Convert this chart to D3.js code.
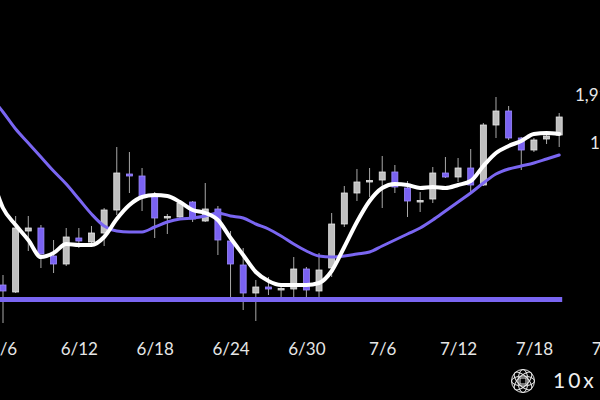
<!DOCTYPE html>
<html>
<head>
<meta charset="utf-8">
<script src="https://cdn.jsdelivr.net/npm/d3@7"></script>
<style>
  html, body { margin: 0; padding: 0; background: #000; overflow: hidden; }
  svg { display: block; }
</style>
</head>
<body>
<svg id="chart" width="600" height="400"></svg>
<script>
// ---- data ----
const candleDates = ["6/6","6/7","6/8","6/9","6/10","6/11","6/12","6/13","6/14","6/15","6/16","6/17","6/18","6/19","6/20","6/21","6/22","6/23","6/24","6/25","6/26","6/27","6/28","6/29","6/30","7/1","7/2","7/3","7/4","7/5","7/6","7/7","7/8","7/9","7/10","7/11","7/12","7/13","7/14","7/15","7/16","7/17","7/18","7/19","7/20"];
const open  = [1538,1524,1646,1652,1596,1580,1632,1624,1642,1688,1760,1756,1714,1673,1674,1704,1666,1690,1626,1578,1522,1534,1529,1530,1570,1526,1572,1660,1722,1745,1748,1764,1732,1705,1710,1762,1754,1772,1738,1858,1886,1832,1808,1830,1838];
const high  = [1558,1676,1676,1658,1628,1652,1652,1656,1692,1814,1804,1772,1724,1680,1708,1706,1742,1696,1646,1612,1548,1554,1542,1594,1574,1602,1682,1736,1770,1772,1796,1778,1746,1724,1774,1794,1792,1810,1862,1914,1896,1834,1832,1844,1882];
const low   = [1462,1522,1606,1572,1562,1576,1612,1622,1616,1678,1722,1686,1632,1640,1672,1664,1664,1598,1512,1488,1466,1518,1512,1512,1514,1514,1554,1654,1706,1714,1692,1722,1674,1684,1702,1752,1744,1724,1736,1832,1828,1768,1804,1820,1814];
const close = [1526,1652,1652,1600,1580,1634,1626,1642,1688,1762,1756,1714,1672,1675,1702,1670,1690,1628,1580,1522,1534,1530,1531,1570,1528,1568,1660,1722,1744,1747,1764,1734,1706,1707,1762,1754,1772,1738,1858,1886,1832,1808,1828,1836,1874];

const maDates = ["6/5"].concat(candleDates);
const maShort = [1764,1692,1658,1628,1594,1602,1620,1618,1618,1634,1670,1698,1714,1718,1716,1704,1688,1682,1668,1632,1598,1564,1546,1538,1538,1538,1542,1566,1614,1664,1706,1732,1740,1738,1732,1734,1732,1738,1746,1776,1802,1816,1826,1840,1842,1840];
const maLong  = [1916,1884,1850,1822,1794,1766,1740,1710,1680,1656,1646,1644,1644,1654,1664,1670,1672,1676,1682,1676,1672,1660,1650,1636,1620,1606,1596,1594,1596,1600,1604,1616,1628,1640,1652,1668,1686,1704,1722,1742,1760,1770,1776,1782,1790,1798];

const levelValue = 1509;
const tickDates = ["6/6","6/12","6/18","6/24","6/30","7/6","7/12","7/18","7/24"];
const priceTags = ["1,918","1,822"];
const priceTagValues = [1918, 1822];

// ---- helpers ----
const parse = s => { const [m, d] = s.split("/").map(Number); return new Date(2023, m - 1, d); };

const svg = d3.select("#chart");
const W = 600, H = 400;
svg.append("rect").attr("width", W).attr("height", H).attr("fill", "#000");

const x = d3.scaleTime()
  .domain([parse("6/6"), parse("7/20")])
  .range([3, 559.2]);
const y = d3.scaleLinear()
  .domain([1400, 2000])
  .range([354, 54]);

const candles = candleDates.map((d, i) => ({ date: parse(d), o: open[i], h: high[i], l: low[i], c: close[i] }));
const up = d => d.c >= d.o;
const bodyW = 6;

// candles
const g = svg.append("g");
g.selectAll("line.wick").data(candles).join("line")
  .attr("class", "wick")
  .attr("x1", d => x(d.date)).attr("x2", d => x(d.date))
  .attr("y1", d => y(d.h)).attr("y2", d => y(d.l))
  .attr("stroke", "#a8a8a8").attr("stroke-width", 1);

g.selectAll("rect.body").data(candles).join("rect")
  .attr("class", "body")
  .attr("x", d => x(d.date) - bodyW / 2)
  .attr("width", bodyW)
  .attr("y", d => y(Math.max(d.o, d.c)))
  .attr("height", d => Math.max(1.5, Math.abs(y(d.o) - y(d.c))))
  .attr("fill", d => up(d) ? "#bfbfbf" : "#7a62f2")
  .attr("stroke", d => up(d) ? "#e8e8e8" : "#9e8cff")
  .attr("stroke-width", 0.8);

// level line
svg.append("line")
  .attr("x1", 0).attr("x2", x(parse("7/20")) + 3)
  .attr("y1", y(levelValue)).attr("y2", y(levelValue))
  .attr("stroke", "#7a66f2").attr("stroke-width", 5);

// moving average lines
const lineGen = d3.line()
  .x(d => x(d.date)).y(d => y(d.v))
  .curve(d3.curveMonotoneX);

svg.append("path")
  .datum(maDates.map((d, i) => ({ date: parse(d), v: maLong[i] })))
  .attr("d", lineGen)
  .attr("fill", "none").attr("stroke", "#7a66f2").attr("stroke-width", 3)
  .attr("stroke-linecap", "round");

svg.append("path")
  .datum(maDates.map((d, i) => ({ date: parse(d), v: maShort[i] })))
  .attr("d", lineGen)
  .attr("fill", "none").attr("stroke", "#ffffff").attr("stroke-width", 4)
  .attr("stroke-linecap", "round").attr("stroke-linejoin", "round");

// x axis
const axis = d3.axisBottom(x)
  .tickValues(tickDates.map(parse))
  .tickFormat(d3.timeFormat("%-m/%-d"))
  .tickSize(0).tickPadding(0);
const ax = svg.append("g").attr("transform", "translate(0,342)").call(axis);
ax.select(".domain").remove();
ax.selectAll("text")
  .attr("fill", "#e6e6e6")
  .attr("font-family", "Lato, 'Open Sans', sans-serif")
  .attr("font-size", 17)
  .attr("dy", "0.75em");

// price tags on the right
svg.selectAll("text.tag").data(priceTags).join("text")
  .attr("class", "tag")
  .attr("x", (d, i) => i === 0 ? 575 : 590)
  .attr("y", (d, i) => y(priceTagValues[i]))
  .attr("dy", "0.35em")
  .attr("fill", "#e6e6e6")
  .attr("font-family", "Lato, 'Open Sans', sans-serif")
  .attr("font-size", 17)
  .text(d => d);

// logo
const logo = svg.append("g").attr("transform", "translate(523,381)")
  .attr("fill", "none").attr("stroke", "#e8e8e8").attr("stroke-width", 1);
logo.append("circle").attr("r", 11.5);
[0, 45, 90, 135].forEach(rot => {
  logo.append("ellipse").attr("rx", 11.5).attr("ry", 5).attr("transform", `rotate(${rot})`);
});
logo.append("rect").attr("x", -3).attr("y", -3).attr("width", 6).attr("height", 6);
svg.append("text")
  .attr("x", 553).attr("y", 381).attr("dy", "0.35em")
  .attr("fill", "#f0f0f0")
  .attr("font-family", "Lato, 'Open Sans', sans-serif")
  .attr("font-size", 21)
  .attr("letter-spacing", 3)
  .text("10x Research");
</script>
</body>
</html>
